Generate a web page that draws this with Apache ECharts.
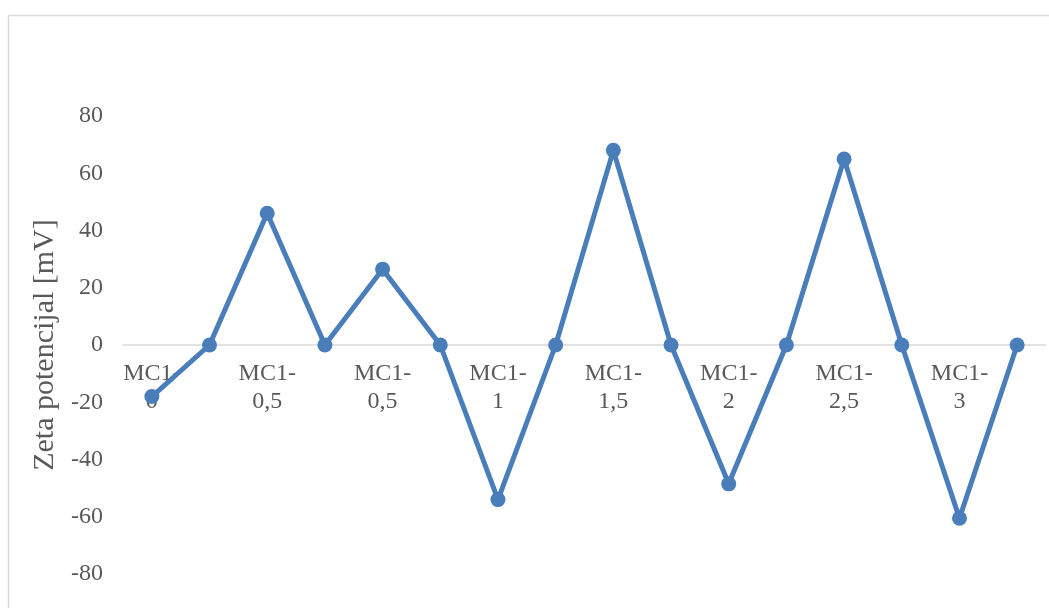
<!DOCTYPE html>
<html>
<head>
<meta charset="utf-8">
<script src="https://cdn.jsdelivr.net/npm/echarts@6/dist/echarts.min.js"></script>
<style>
html,body{margin:0;padding:0;background:#fff;}
#chart{width:1049px;height:608px;}
</style>
</head>
<body>
<div id="chart"></div>
<script>
const categories = ["MC1-0", "", "MC1-0,5", "", "MC1-0,5", "", "MC1-1", "", "MC1-1,5", "", "MC1-2", "", "MC1-2,5", "", "MC1-3", ""];
const zetaValues = [-18, 0, 46, 0, 26.5, 0, -54, 0, 68, 0, -48.5, 0, 65, 0, -60.5, 0];
const yAxisTitle = "Zeta potencijal [mV]";

const chart = echarts.init(document.getElementById('chart'));
chart.setOption({
  animation: false,
  backgroundColor: '#fff',
  graphic: [
    { type: 'line', shape: { x1: 8.5, y1: 15.5, x2: 1049, y2: 15.5 }, style: { stroke: '#d9d9d9', lineWidth: 1.5 }, silent: true },
    { type: 'line', shape: { x1: 8.5, y1: 15.5, x2: 8.5, y2: 608 }, style: { stroke: '#d9d9d9', lineWidth: 1.5 }, silent: true }
  ],
  grid: { left: 123, right: 3, top: 116, bottom: 34, containLabel: false, outerBoundsMode: 'none' },
  xAxis: {
    type: 'category',
    data: categories,
    boundaryGap: true,
    axisLine: { onZero: true, lineStyle: { color: '#d9d9d9', width: 1.5 } },
    axisTick: { show: false },
    axisLabel: {
      interval: 0,
      margin: -214,
      color: '#595959',
      fontFamily: 'Liberation Serif',
      fontSize: 24,
      lineHeight: 28,
      formatter: function (v) { return v ? v.replace('-', '-\n') : ''; }
    },
    splitLine: { show: false }
  },
  yAxis: {
    type: 'value',
    min: -80,
    max: 80,
    interval: 20,
    name: yAxisTitle,
    nameLocation: 'middle',
    nameGap: 60,
    nameTextStyle: { color: '#595959', fontFamily: 'Liberation Serif', fontSize: 30 },
    axisLine: { show: false },
    axisTick: { show: false },
    splitLine: { show: false },
    axisLabel: { color: '#595959', fontFamily: 'Liberation Serif', fontSize: 24, margin: 20 }
  },
  series: [{
    type: 'line',
    data: zetaValues,
    symbol: 'circle',
    symbolSize: 15,
    lineStyle: { color: '#4a7ebb', width: 5 },
    itemStyle: { color: '#4a7ebb' }
  }]
});
</script>
</body>
</html>
